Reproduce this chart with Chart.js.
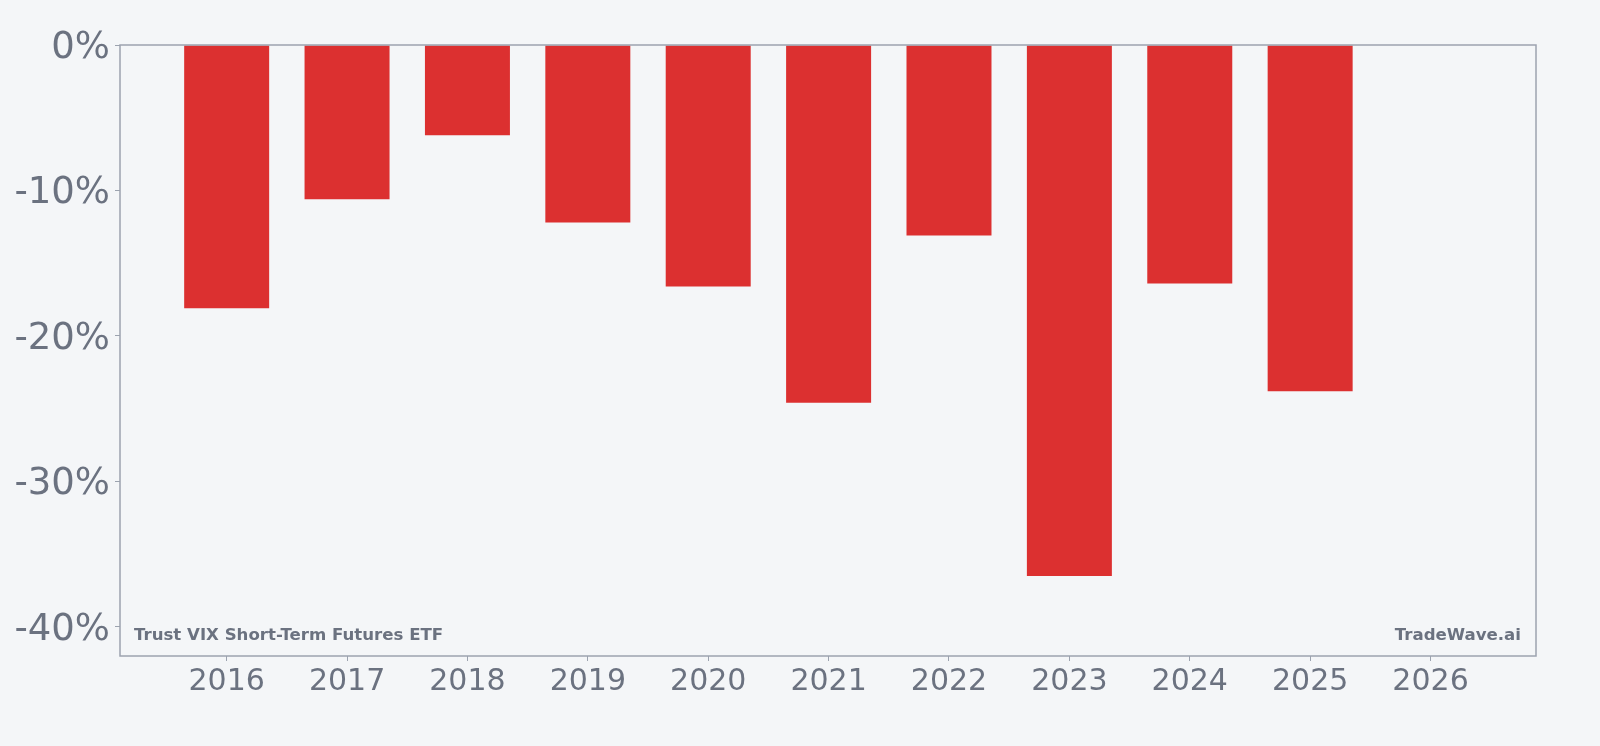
<!DOCTYPE html>
<html>
<head>
<meta charset="utf-8">
<script src="https://cdn.jsdelivr.net/npm/chart.js@4"></script>
<style>
  html, body { margin: 0; padding: 0; background: #f4f6f8; }
  #wrap { width: 1600px; height: 746px; }
</style>
</head>
<body>
<div id="wrap"><canvas id="barChart" width="1600" height="746"></canvas></div>
<script>
const years = [2016, 2017, 2018, 2019, 2020, 2021, 2022, 2023, 2024, 2025, 2026];
const returns = [-18.1, -10.6, -6.2, -12.2, -16.6, -24.6, -13.1, -36.5, -16.4, -23.8, null];
const yTicks = [0, -10, -20, -30, -40];

const textGray = "#6b7280";
const frameGray = "#9ca3af";

// frame round the plot and the two corner labels
const framePlugin = {
    id: "frame",
    afterDraw(chart) {
        const { ctx, chartArea: a } = chart;
        ctx.save();
        ctx.strokeStyle = frameGray;
        ctx.lineWidth = 1.5;
        ctx.strokeRect(a.left, a.top, a.right - a.left, a.bottom - a.top);
        ctx.fillStyle = textGray;
        ctx.font = "bold 16.6px 'DejaVu Sans'";
        ctx.textBaseline = "alphabetic";
        ctx.textAlign = "left";
        ctx.fillText("Trust VIX Short-Term Futures ETF", a.left + 14, a.bottom - 16);
        ctx.textAlign = "right";
        ctx.fillText("TradeWave.ai", a.right - 15, a.bottom - 16);
        ctx.restore();
    }
};

new Chart(
    document.getElementById("barChart"), {
        type: "bar",
        data: {
            datasets: [
                {
                    label: "Return",
                    data: years.map((y, i) => ({ x: y, y: returns[i] })),
                    backgroundColor: "#dc3030",
                    borderWidth: 0,
                    categoryPercentage: 0.706,
                    barPercentage: 1
                }
            ]
        },
        options: {
            responsive: false,
            animation: false,
            layout: { padding: { top: 45, right: 64, left: 0, bottom: 0 } },
            plugins: { legend: { display: false }, tooltip: { enabled: false } },
            scales: {
                x: {
                    type: "linear",
                    offset: false,
                    min: 2015.114,
                    max: 2026.876,
                    afterBuildTicks: s => { s.ticks = years.map(v => ({ value: v })); },
                    afterFit: s => { s.height = 90; },
                    border: { display: false },
                    grid: { display: true, drawOnChartArea: false, drawTicks: true, tickLength: 5, color: frameGray, offset: false },
                    ticks: {
                        color: textGray,
                        font: { family: "'DejaVu Sans'", size: 30 },
                        padding: 3,
                        maxRotation: 0,
                        autoSkip: false,
                        callback: v => String(v)
                    }
                },
                y: {
                    min: -42,
                    max: 0,
                    afterBuildTicks: s => { s.ticks = yTicks.map(v => ({ value: v })); },
                    afterFit: s => { s.width = 120; },
                    border: { display: false },
                    grid: { display: true, drawOnChartArea: false, drawTicks: true, tickLength: 5, color: frameGray },
                    ticks: {
                        color: textGray,
                        font: { family: "'DejaVu Sans'", size: 37 },
                        padding: 5,
                        labelOffset: 3,
                        callback: v => v + "%"
                    }
                }
            }
        },
        plugins: [framePlugin]
    }
)
</script>
</body>
</html>
